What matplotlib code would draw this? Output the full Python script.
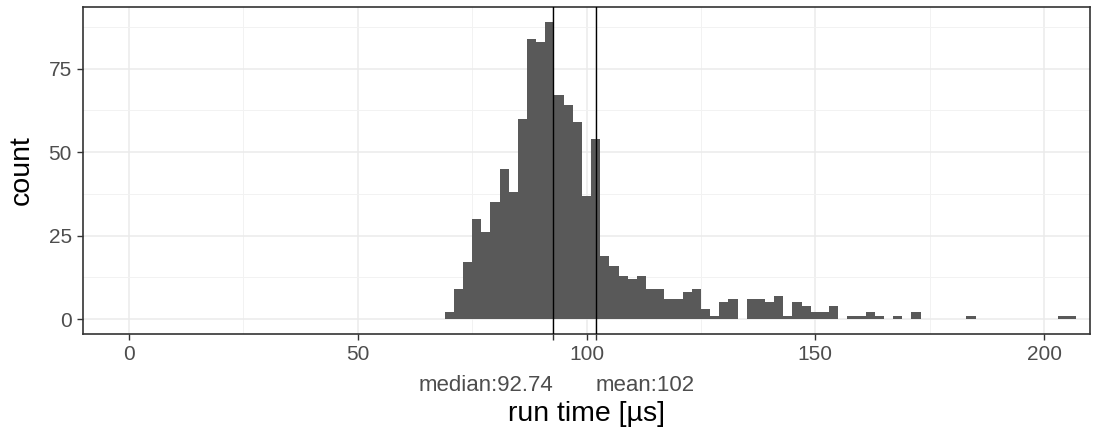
import numpy as np
import matplotlib
matplotlib.use("Agg")
import matplotlib.pyplot as plt

plt.rcParams["font.family"] = ["Liberation Sans", "DejaVu Sans"]

# histogram: bins of 2 us starting at 69
bin_edges = np.arange(69, 209, 2)
counts = [2, 9, 17, 30, 26, 35, 45, 38, 60, 84,
          83, 89, 67, 64, 59, 37, 54, 19, 16, 13,
          12, 13, 9, 9, 6, 6, 8, 9, 3, 1,
          5, 6, 0, 6, 6, 5, 7, 1, 5, 4,
          2, 2, 4, 0, 1, 1, 2, 1, 0, 1,
          0, 2, 0, 0, 0, 0, 0, 1, 0, 0,
          0, 0, 0, 0, 0, 0, 0, 1, 1]
median = 92.74
mean = 102
x_ticks = [0, 50, 100, 150, 200]
y_ticks = [0, 25, 50, 75]

bin_centers = (bin_edges[:-1] + bin_edges[1:]) / 2

fig = plt.figure(figsize=(10.93, 4.34), dpi=100)
ax = fig.add_axes([83 / 1093, 100 / 434, 1007 / 1093, 327 / 434])

ax.hist(bin_centers, bins=bin_edges, weights=counts, histtype="stepfilled",
        color="#595959", linewidth=0, zorder=2)
ax.axvline(median, color="black", linewidth=1.0, zorder=3)
ax.axvline(mean, color="black", linewidth=1.0, zorder=3)

ax.set_xlim(-10, 210)
ax.set_ylim(-4.45, 93.45)

# grid like theme_bw
ax.set_xticks(x_ticks + [median, mean])
ax.set_xticklabels([str(t) for t in x_ticks] + ["", ""])
ax.set_xticks([25, 75, 125, 175], minor=True)
ax.set_yticks(y_ticks)
ax.set_yticks([12.5, 37.5, 62.5, 87.5], minor=True)
ax.grid(which="major", color="#EBEBEB", linewidth=1.1, zorder=0)
ax.grid(which="minor", color="#F2F2F2", linewidth=0.7, zorder=0)
ax.set_axisbelow(True)

ax.tick_params(which="major", length=4, width=1.0, color="#333333",
               labelsize=15, labelcolor="#4D4D4D", pad=4)
ax.tick_params(which="minor", length=0)
for s in ax.spines.values():
    s.set_color("#333333")
    s.set_linewidth(1.2)

# labels for the median / mean ticks sit on a second row
ax.text(median, -0.156, "median:92.74", transform=ax.get_xaxis_transform(),
        ha="right", va="center", fontsize=16, color="#4D4D4D")
ax.text(mean, -0.156, "mean:102", transform=ax.get_xaxis_transform(),
        ha="left", va="center", fontsize=16, color="#4D4D4D")

ax.set_xlabel("run time [µs]", fontsize=20.5)
ax.xaxis.label.set_va("center")
ax.xaxis.set_label_coords(0.5, -0.245)
ax.set_ylabel("count", fontsize=20.5)
ax.yaxis.label.set_va("center")
ax.yaxis.set_label_coords(-0.0606, 0.5)

fig.savefig("out.png", dpi=100)
